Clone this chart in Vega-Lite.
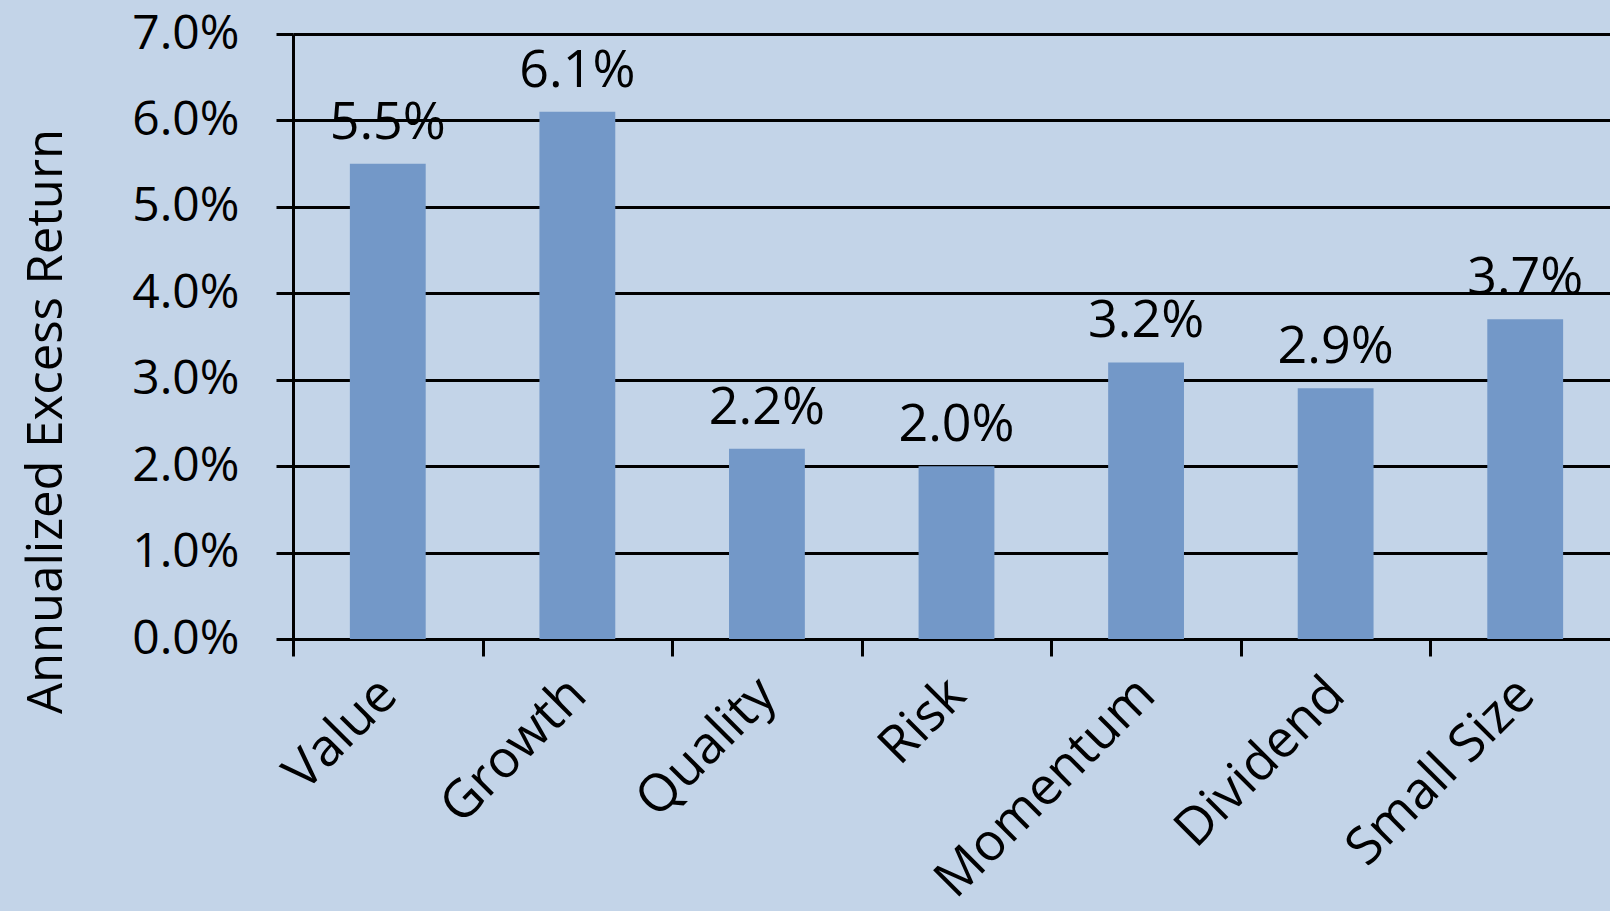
{
  "$schema": "https://vega.github.io/schema/vega-lite/v6.json",
  "autosize": {"type": "none"},
  "width": 1327,
  "height": 605,
  "padding": {"left": 293, "top": 34, "right": 0, "bottom": 272},
  "background": "#c3d4e8",
  "config": {
    "view": {"stroke": null},
    "font": "Open Sans"
  },
  "data": {
    "values": [
      {"factor": "Value", "ret": 0.055},
      {"factor": "Growth", "ret": 0.061},
      {"factor": "Quality", "ret": 0.022},
      {"factor": "Risk", "ret": 0.020},
      {"factor": "Momentum", "ret": 0.032},
      {"factor": "Dividend", "ret": 0.029},
      {"factor": "Small Size", "ret": 0.037}
    ]
  },
  "encoding": {
    "x": {
      "field": "factor",
      "type": "nominal",
      "sort": null,
      "scale": {"paddingInner": 0, "paddingOuter": 0},
      "axis": {
        "title": null,
        "labelAngle": -45,
        "labelAlign": "right",
        "labelBaseline": "middle",
        "labelFontSize": 52,
        "labelLimit": 0,
        "labelColor": "#000000",
        "labelPadding": 30,
        "domainColor": "#000000",
        "domainWidth": 3,
        "tickColor": "#000000",
        "tickWidth": 3,
        "tickSize": 17,
        "tickBand": "extent",
        "grid": false
      }
    },
    "y": {
      "field": "ret",
      "type": "quantitative",
      "scale": {"domain": [0, 0.07], "nice": false},
      "axis": {
        "title": "Annualized Excess Return",
        "titleFontSize": 49,
        "titleFontWeight": "normal",
        "titleColor": "#000000",
        "titleAngle": -90,
        "titleX": -247,
        "titleY": 387,
        "titleAlign": "center",
        "titleBaseline": "middle",
        "values": [0, 0.01, 0.02, 0.03, 0.04, 0.05, 0.06, 0.07],
        "format": ".1%",
        "labelFontSize": 48,
        "labelColor": "#000000",
        "labelPadding": 37,
        "tickSize": 17,
        "tickColor": "#000000",
        "tickWidth": 3,
        "domainColor": "#000000",
        "domainWidth": 3,
        "grid": true,
        "gridColor": "#000000",
        "gridWidth": 3,
        "gridOpacity": 1
      }
    }
  },
  "layer": [
    {"mark": {"type": "bar", "color": "#7398c8", "width": {"band": 0.4}}},
    {
      "mark": {"type": "text", "baseline": "alphabetic", "dy": -25, "fontSize": 52, "color": "#000000"},
      "encoding": {"text": {"field": "ret", "format": ".1%"}}
    }
  ]
}
